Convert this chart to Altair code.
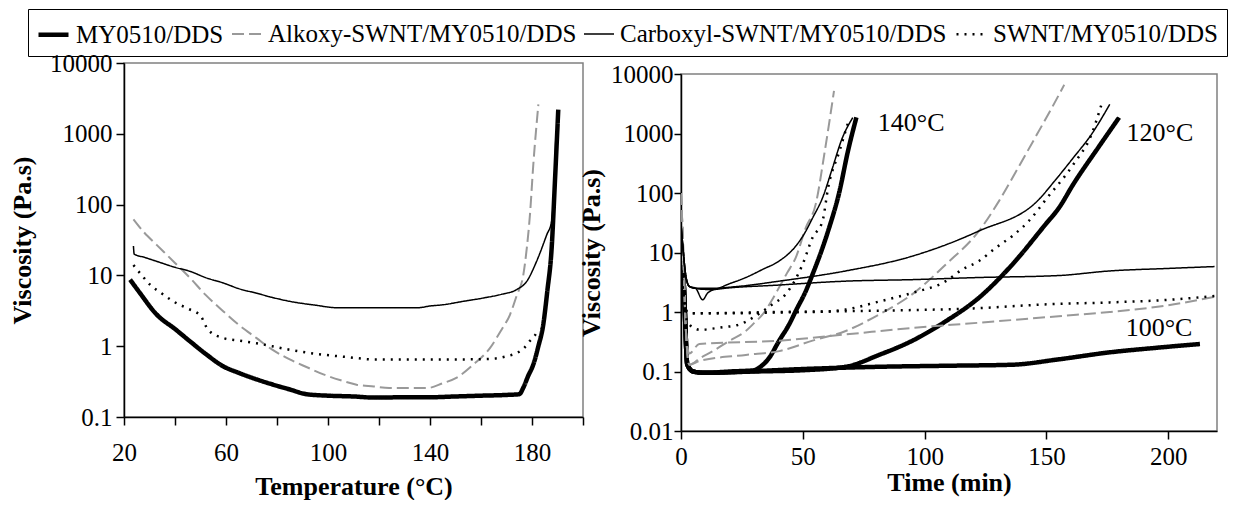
import altair as alt
import pandas as pd

SERIES = ["MY0510/DDS", "Alkoxy-SWNT/MY0510/DDS", "Carboxyl-SWNT/MY0510/DDS", "SWNT/MY0510/DDS"]
COLORS = ["black", "#999999", "black", "black"]
DASHES = [[1, 0], [12, 5], [1, 0], [2, 6]]
WIDTHS = [4.5, 2, 1.5, 2.5]
FONT = "Liberation Serif"

# ---------- left panel: viscosity vs temperature ----------
temp_my = [22.4, 26, 32.8, 40, 45.9, 52, 58.9, 65, 72, 78, 85, 91.6, 100, 110, 118, 130, 140, 150, 160, 170, 175,
           176.6, 178.5, 180.5, 182.5, 184.4, 186, 187.7, 189, 190.3]
visc_my = [8.7, 5.8, 2.8, 1.75, 1.17, 0.78, 0.52, 0.42, 0.34, 0.29, 0.245, 0.21, 0.2, 0.195, 0.188, 0.19, 0.19, 0.195,
           0.2, 0.205, 0.21, 0.26, 0.38, 0.55, 1.0, 2.0, 6.0, 24, 215, 2200]

temp_ak = [23.7, 28, 32.8, 40, 45.9, 52, 59, 65, 72, 78, 85, 92, 98.2, 105, 111.2, 118, 124, 139, 145, 150.5, 157,
           163.5, 168, 171.4, 174, 176.6, 178, 179.2, 180.5, 182.5]
visc_ak = [62, 40, 27, 15, 9.2, 5.3, 3.1, 2.0, 1.3, 0.9, 0.65, 0.5, 0.40, 0.33, 0.286, 0.27, 0.257, 0.257, 0.3, 0.36,
           0.55, 0.94, 1.7, 2.8, 5.2, 10.2, 25, 72, 363, 2600]

temp_cx = [23.7, 24, 28, 32.8, 40, 45.9, 52, 59, 65, 72, 78, 85, 95, 103.4, 120, 135.4, 140, 145.2, 153, 161, 168,
           174, 178, 181.8, 185.8, 187.7, 189, 189.4]
visc_cx = [26, 20, 18, 15.8, 13, 11.4, 9.3, 7.8, 6.5, 5.6, 4.9, 4.3, 3.8, 3.5, 3.5, 3.5, 3.7, 3.85, 4.3, 4.8, 5.4,
           6.3, 8.3, 15.8, 37.6, 58, 363, 1020]

temp_sw = [23.7, 27, 30.2, 35, 39.3, 45, 50, 53, 59, 65, 72, 78, 85, 98, 108, 118, 130, 140, 150, 163.5, 170, 174,
           177, 179, 181, 182.5]
visc_sw = [14, 10, 7.4, 5.5, 4.3, 3.4, 2.7, 1.7, 1.3, 1.2, 1.1, 1.0, 0.89, 0.76, 0.7, 0.65, 0.65, 0.65, 0.65, 0.66,
           0.72, 0.80, 0.95, 1.17, 1.4, 1.7]

# ---------- right panel: isothermal viscosity vs time ----------
my140_t = [0, 1, 2.6, 5, 10, 20, 30, 32.1, 36.2, 40.3, 44.4, 47.1, 51.2, 54, 58.1, 60.8, 64.9, 68.5, 72]
my140_v = [6, 3.5, 0.13, 0.1, 0.095, 0.1, 0.105, 0.116, 0.17, 0.33, 0.62, 1.04, 2.24, 4.3, 12, 26, 100, 500, 1870]
my120_t = [0, 1, 2.6, 5, 10, 30, 50, 67.6, 81.3, 95, 108.7, 122.3, 136, 149.7, 155.1, 161, 171.5, 179.8]
my120_v = [6, 3.5, 0.13, 0.1, 0.095, 0.1, 0.105, 0.12, 0.19, 0.33, 0.7, 1.74, 6.3, 30, 56, 140, 600, 1850]
my100_t = [0, 1, 2.6, 5, 10, 26.6, 50, 81.3, 110, 136, 155, 176, 195, 213]
my100_v = [6, 3.5, 0.13, 0.1, 0.095, 0.1, 0.11, 0.12, 0.125, 0.13, 0.16, 0.21, 0.25, 0.29]

ak140_t = [0, 0.7, 2, 3.4, 8, 13, 20, 26.6, 30, 33.5, 37, 40.3, 43.5, 47.1, 51.2, 55.3, 59, 62.8]
ak140_v = [100, 20, 0.5, 0.13, 0.17, 0.22, 0.33, 0.48, 0.65, 0.91, 1.5, 2.6, 4.5, 8.2, 26, 65, 500, 5200]
ak120_t = [0, 0.7, 2, 3.4, 7.5, 26.6, 40.3, 54, 67.6, 81.3, 95, 108.7, 122.3, 130.5, 138, 146, 152, 157.3]
ak120_v = [100, 20, 0.5, 0.13, 0.15, 0.19, 0.22, 0.33, 0.48, 0.91, 2.0, 6.3, 23, 73, 250, 950, 2600, 6600]
ak100_t = [0, 0.7, 2, 3.4, 7.5, 40.3, 67.6, 95, 122.3, 155, 176, 200, 219]
ak100_v = [100, 20, 0.5, 0.2, 0.29, 0.33, 0.42, 0.54, 0.66, 0.85, 1.0, 1.3, 1.8]

cx140_t = [0, 0.8, 2, 3.4, 6, 10, 13, 20, 26.6, 33.5, 40.3, 47.1, 51, 54, 58.1, 62, 66, 70.5]
cx140_v = [30, 12, 4, 2.7, 2.5, 2.4, 2.4, 3.0, 3.8, 5.2, 7.2, 12.8, 22, 38, 83, 250, 800, 1850]
cx120_t = [0, 0.8, 2, 3.4, 6, 12, 23.9, 40.3, 67.6, 95, 122.3, 146.9, 153.4, 161, 168.5, 176]
cx120_v = [30, 12, 4, 2.7, 2.5, 2.5, 2.7, 3.3, 4.9, 8.7, 23, 78, 160, 390, 970, 3100]
cx100_t = [0, 0.8, 2, 3.4, 6, 8.9, 11, 14.3, 40.3, 67.6, 95, 122.3, 155, 176, 200, 219]
cx100_v = [30, 12, 4, 2.7, 2.5, 1.6, 2.1, 2.4, 2.84, 3.3, 3.5, 3.8, 4.1, 4.9, 5.4, 5.8]

sw140_t = [0, 1, 2.5, 5, 8, 12, 18, 23, 27, 31.4, 37.6, 43, 49.9, 54, 58.1, 60.5, 65, 69]
sw140_v = [5, 2, 0.7, 0.55, 0.5, 0.52, 0.56, 0.6, 0.7, 0.9, 1.35, 2.0, 6.3, 17.8, 34, 130, 500, 1750]
sw120_t = [0, 1, 2.5, 5, 20, 40, 60, 67.6, 81.3, 95, 108.7, 115.5, 122.3, 129.2, 136, 142.8, 150, 161, 168.5, 173]
sw120_v = [5, 2, 1.0, 0.95, 0.95, 0.98, 1.02, 1.1, 1.5, 2.1, 3.3, 5.2, 7.2, 12, 19, 34, 80, 300, 970, 3500]
sw100_t = [0, 1, 2.5, 5, 40, 80, 120, 151, 176, 200, 219]
sw100_v = [5, 2, 1.0, 0.95, 1.0, 1.05, 1.15, 1.35, 1.45, 1.6, 1.86]

label_text = ["140°C", "120°C", "100°C"]
label_time = [94.5, 196.6, 196.2]
label_visc = [1500, 1020, 0.545]

# ---------- tables ----------
left_rows = []
for name, xs, vs in [(SERIES[0], temp_my, visc_my), (SERIES[1], temp_ak, visc_ak),
                     (SERIES[2], temp_cx, visc_cx), (SERIES[3], temp_sw, visc_sw)]:
    for x, v in zip(xs, vs):
        left_rows.append({"series": name, "temp": x, "visc": v})
df_left = pd.DataFrame(left_rows)

right_sets = [
    (SERIES[0], "140", my140_t, my140_v), (SERIES[0], "120", my120_t, my120_v), (SERIES[0], "100", my100_t, my100_v),
    (SERIES[1], "140", ak140_t, ak140_v), (SERIES[1], "120", ak120_t, ak120_v), (SERIES[1], "100", ak100_t, ak100_v),
    (SERIES[2], "140", cx140_t, cx140_v), (SERIES[2], "120", cx120_t, cx120_v), (SERIES[2], "100", cx100_t, cx100_v),
    (SERIES[3], "140", sw140_t, sw140_v), (SERIES[3], "120", sw120_t, sw120_v), (SERIES[3], "100", sw100_t, sw100_v),
]
right_rows = []
for name, cure, ts, vs in right_sets:
    for t, v in zip(ts, vs):
        right_rows.append({"series": name, "cure": cure, "time": t, "visc": v})
df_right = pd.DataFrame(right_rows)
df_labels = pd.DataFrame({"text": label_text, "time": label_time, "visc": label_visc})

legend = alt.Legend(title=None, orient="none", legendX=-96, legendY=-54, direction="horizontal",
                    symbolType="stroke", symbolSize=900, labelFontSize=25, labelFont=FONT,
                    labelColor="black", strokeColor="black", padding=8, columnPadding=4,
                    labelOffset=5, labelLimit=600)

color = alt.Color("series:N", scale=alt.Scale(domain=SERIES, range=COLORS), legend=legend)
dash = alt.StrokeDash("series:N", scale=alt.Scale(domain=SERIES, range=DASHES), legend=legend)
width = alt.StrokeWidth("series:N", scale=alt.Scale(type="ordinal", domain=SERIES, range=WIDTHS), legend=legend)

left = alt.Chart(df_left).mark_line(interpolate="monotone", clip=True).encode(
    x=alt.X("temp:Q", scale=alt.Scale(domain=[20, 200], nice=False, zero=False),
            axis=alt.Axis(title="Temperature (°C)", values=list(range(20, 201, 20)),
                          labelExpr="datum.value % 40 == 20 ? datum.label : ''",
                          labelPadding=15, titlePadding=8, tickSize=8, labelFlush=False)),
    y=alt.Y("visc:Q", scale=alt.Scale(type="log", domain=[0.1, 10000], nice=False),
            axis=alt.Axis(title="Viscosity (Pa.s)", values=[0.1, 1, 10, 100, 1000, 10000], format="~g",
                          labelPadding=4, titlePadding=14, tickSize=8)),
    color=color, strokeDash=dash, strokeWidth=width,
).properties(width=459, height=354)

right_lines = alt.Chart(df_right).mark_line(interpolate="monotone", clip=True).encode(
    x=alt.X("time:Q", scale=alt.Scale(domain=[0, 220], nice=False),
            axis=alt.Axis(title="Time (min)", values=[0, 50, 100, 150, 200],
                          labelPadding=5, titlePadding=0, tickSize=8, labelFlush=False)),
    y=alt.Y("visc:Q", scale=alt.Scale(type="log", domain=[0.01, 10000], nice=False),
            axis=alt.Axis(title="Viscosity (Pa.s)", values=[0.01, 0.1, 1, 10, 100, 1000, 10000], format="~g",
                          labelPadding=1, titlePadding=6, tickSize=7)),
    color=color, strokeDash=dash, strokeWidth=width, detail="cure:N",
)
right_text = alt.Chart(df_labels).mark_text(font=FONT, fontSize=26, color="black").encode(
    x="time:Q", y="visc:Q", text="text:N")
right = alt.layer(right_lines, right_text).properties(width=536, height=357)

# invisible strip that lowers the right panel a little, as in the original figure
spacer = alt.Chart(df_labels).mark_point(size=1, opacity=0).properties(
    width=536, height=1, view=alt.ViewBackground(strokeOpacity=0))

right_col = alt.vconcat(spacer, right, spacing=-3)

chart = alt.hconcat(left, right_col, spacing=-8).properties(padding=0).configure_view(
    stroke="#808080", strokeWidth=1.5
).configure_axis(
    grid=False, domainColor="black", domainWidth=1.5, tickColor="black", tickWidth=1.5,
    labelColor="black", titleColor="black", labelFont=FONT, titleFont=FONT,
    labelFontSize=25, titleFontSize=26, titleFontWeight="bold", labelOverlap=False,
)

chart.save("out.html", embed_options={"renderer": "svg", "actions": False})
